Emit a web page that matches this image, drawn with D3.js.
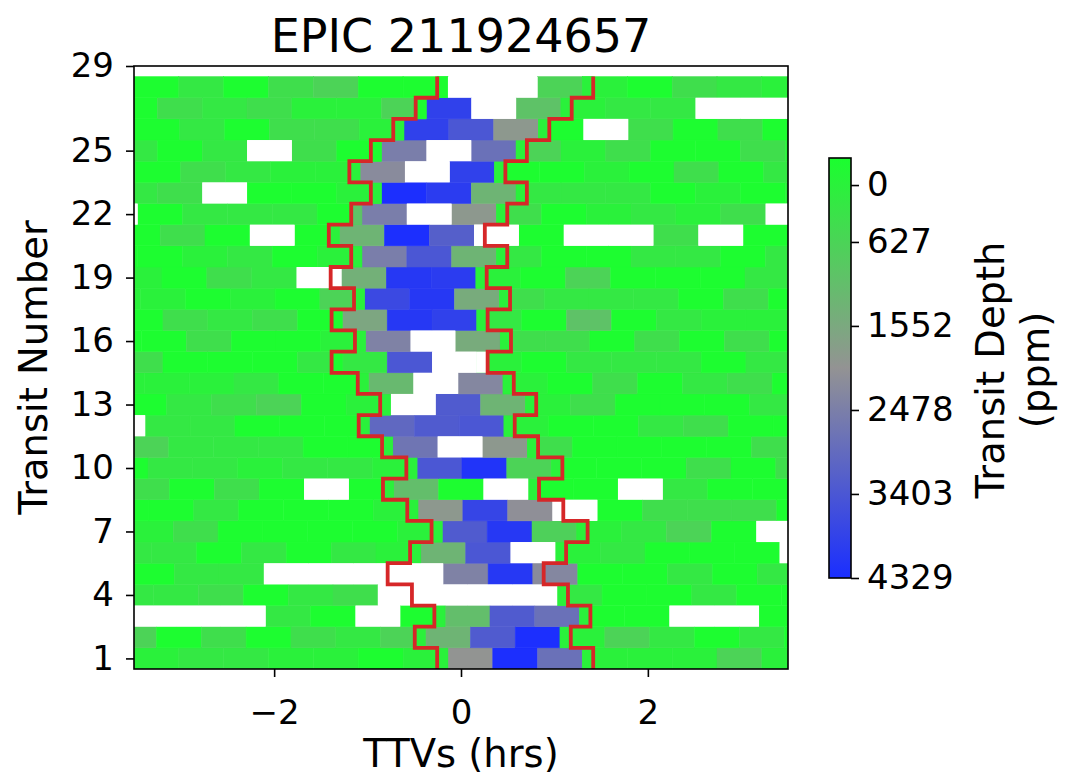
<!DOCTYPE html>
<html>
<head>
<meta charset="utf-8">
<script src="https://cdn.jsdelivr.net/npm/d3@7"></script>
<style>
  body { margin: 0; background: #fff; }
  text { font-family: "DejaVu Sans", sans-serif; }
</style>
</head>
<body>
<div id="graph"></div>
<script>
// rows of the river diagram
const transits = [1, 2, 3, 4, 5, 6, 7, 8, 9, 10, 11, 12, 13, 14, 15, 16, 17, 18, 19, 20, 21, 22, 23, 24, 25, 26, 27, 28];
// transit timing variation of each transit (hrs)
const ttv = [0.58, 0.34, 0.55, 0.31, 0.05, 0.29, 0.52, 0.26, 0.00, 0.25, -0.01, -0.26, -0.03, -0.27,
             -0.55, -0.30, -0.55, -0.31, -0.56, -0.34, -0.58, -0.34, -0.13, -0.36, -0.13, 0.11, 0.35, 0.58];
// bins around each transit centre, in units of binWidth
const binIndex = [-8, -7, -6, -5, -4, -3, -2, -1, 0, 1, 2, 3, 4, 5, 6, 7, 8];
const binWidth = 0.48;   // hrs
const duration = 1.67;   // hrs, red window
// depth (ppm) per transit / bin, null = masked
const depth = [
  [0, 200, 200, 0, 0, -250, 0, 2000, 4300, 2800, 0, 0, 0, 650, 0, 0, 0],
  [650, -250, 400, -250, 400, 200, 650, 1300, 3300, 4300, 0, 650, 200, -250, 200, -250, 0],
  [null, null, null, 200, -250, null, -250, 1100, 3300, 2800, -250, -250, null, null, -250, 0, 0],
  [200, 200, 400, -250, 200, 400, null, null, null, null, 200, -250, -250, 200, -250, -250, 0],
  [0, -250, 200, 200, null, null, null, null, 2400, 4100, 2300, -250, -250, 200, -250, 200, 0],
  [200, 200, -250, 200, -250, 200, 0, 1300, 3400, null, 0, 200, -250, -250, -250, null, 0],
  [0, 400, -250, -250, -250, -250, 0, 3300, 4100, 700, 0, 200, 650, -250, null, 0, 0],
  [-250, -250, 200, -250, -250, -250, 0, 1900, 3800, 2100, null, -250, 400, 400, 400, -250, 0],
  [0, 400, -250, 400, -250, null, -250, 1100, -250, null, -250, -250, null, 200, -250, -250, 0],
  [-250, 200, 200, 0, 200, 200, 0, 3400, 4200, 650, -250, -250, -250, 400, -250, 400, 0],
  [0, 650, 200, 200, 200, -250, -250, 2700, null, 1900, 400, -250, -250, -250, -250, 400, 0],
  [0, null, 200, 200, -250, -250, -250, 3000, 3300, 3400, 0, -250, -250, 200, 400, -250, -250],
  [0, -250, 200, 400, 650, -250, 0, null, 3300, 1300, 0, 400, -250, -250, -250, 200, 0],
  [0, 0, 0, 0, 200, -250, -250, 1200, null, 2300, 0, -250, 400, -250, 200, 400, -250],
  [0, 0, 400, -250, -250, -250, 200, 200, 3400, null, 0, -250, 200, 200, 200, -250, 200],
  [0, -250, -250, 400, -250, -250, 0, 2400, null, 1500, 400, 400, -250, 400, -250, 400, -250],
  [0, 0, -250, 400, 200, 400, -250, 1600, 4100, 3900, 200, -250, 1000, -250, 200, 0, 0],
  [0, 0, 0, -250, 0, -250, 650, 3700, 4100, 1500, 400, 200, 200, 200, -250, 400, -250],
  [0, 0, 0, -250, 400, 200, null, 1400, 4100, 4000, 0, -250, 650, -250, -250, -250, 200],
  [0, -250, -250, 0, 200, -250, 0, 2500, 3400, 1300, 200, -250, -250, 200, 200, -250, 200],
  [0, 0, -250, 400, -250, null, -250, 1300, 4300, 3200, null, -250, null, null, 400, null, -250],
  [0, null, -250, 200, 200, 200, -250, 2500, null, 1900, 400, -250, 0, 200, 0, 400, null],
  [0, 200, 400, null, -250, -250, 0, 4300, 4000, 1300, 200, 200, 200, -250, 0, -250, 0],
  [0, 0, -250, 400, 200, 0, 0, 2200, null, 3900, -250, -250, 0, -250, 400, -250, 200],
  [0, 200, -250, 200, null, 400, -250, 2500, null, 2800, 650, 0, 400, -250, -250, 400, 0],
  [-250, -250, 200, -250, 400, 400, 0, 3900, 3400, 1900, -250, null, 400, -250, 400, -250, 0],
  [-250, 400, 200, 400, 0, 0, 650, 3900, null, 1000, 0, 200, 200, null, null, null, 0],
  [-250, 200, -250, 400, 650, -250, -250, null, null, 650, 0, -250, 400, 200, 0, 0, 0]
];
// thin in-transit slivers at the window edges
const ingressDepth = [0, 0, 0, null, null, 0, 0, 0, 0, 0, 0, 0, 0, 0, -250, 0, -250, 0, null, 0, 0, 1000, 0, 0, -250, 0, -250, -250];
const egressDepth = [0, 0, 0, 0, 2200, 0, 0, null, 0, 0, 0, 0, 0, 0, null, 0, 0, 0, 0, 0, null, 0, 0, 0, 0, 0, 0, 0];

const yTicks = [1, 4, 7, 10, 13, 16, 19, 22, 25, 29];
const xTicks = [-2, 0, 2];
const cbarTicks = [0, 627, 1552, 2478, 3403, 4329];
const depthRange = [-298, 4329];

const width = 1070, height = 781;
const plot = {left: 134, right: 788, top: 66, bottom: 669};
const cbar = {left: 829, width: 22, top: 158, bottom: 578};

let svg = d3.select("#graph")
    .append("svg")
    .attr("width", width)
    .attr("height", height);

let x = d3.scaleLinear().domain([-3.5, 3.5]).range([plot.left, plot.right]);
let y = d3.scaleLinear().domain([0.5, 29]).range([plot.bottom, plot.top]);

let color = d3.scaleLinear()
    .domain([depthRange[0], (depthRange[0] + depthRange[1]) / 2, depthRange[1]])
    .range(["#1aff2e", "#939393", "#1a2eff"])
    .clamp(true);

svg.append("clipPath").attr("id", "clip")
    .append("rect")
    .attr("x", plot.left).attr("y", plot.top)
    .attr("width", plot.right - plot.left).attr("height", plot.bottom - plot.top);

// flatten cells
let cells = [];
transits.forEach(function(t, i) {
    binIndex.forEach(function(k, j) {
        cells.push({t: t, x0: ttv[i] + (k - 0.5) * binWidth, x1: ttv[i] + (k + 0.5) * binWidth, v: depth[i][j]});
    });
    cells.push({t: t, x0: ttv[i] - duration / 2, x1: ttv[i] - 1.5 * binWidth, v: ingressDepth[i]});
    cells.push({t: t, x0: ttv[i] + 1.5 * binWidth, x1: ttv[i] + duration / 2, v: egressDepth[i]});
});

let mesh = svg.append("g").attr("clip-path", "url(#clip)");
mesh.selectAll("rect")
    .data(cells.filter(d => d.v !== null))
    .enter()
    .append("rect")
    .attr("x", d => x(d.x0))
    .attr("y", d => y(d.t + 0.5))
    .attr("width", d => x(d.x1) - x(d.x0))
    .attr("height", d => y(d.t - 0.5) - y(d.t + 0.5))
    .attr("fill", d => color(d.v))
    .attr("stroke", d => color(d.v))
    .attr("stroke-width", 0.5);

// masked cells drawn white on top of neighbours
mesh.selectAll("rect.masked")
    .data(cells.filter(d => d.v === null))
    .enter()
    .append("rect")
    .attr("class", "masked")
    .attr("x", d => x(d.x0))
    .attr("y", d => y(d.t + 0.5))
    .attr("width", d => x(d.x1) - x(d.x0))
    .attr("height", d => y(d.t - 0.5) - y(d.t + 0.5))
    .attr("fill", "#fff");

// transit window outline
let rows = transits.slice().reverse();
let line = d3.line().x(d => x(d[0])).y(d => y(d[1]));
[-1, 1].forEach(function(side) {
    let pts = [];
    rows.forEach(function(t) {
        let c = ttv[t - 1] + side * duration / 2;
        pts.push([c, t + 0.5], [c, t - 0.5]);
    });
    mesh.append("path")
        .attr("d", line(pts))
        .attr("fill", "none")
        .attr("stroke", "#d62728")
        .attr("stroke-width", 3.8)
        .attr("stroke-linejoin", "miter");
});

// frame
svg.append("rect")
    .attr("x", plot.left).attr("y", plot.top)
    .attr("width", plot.right - plot.left).attr("height", plot.bottom - plot.top)
    .attr("fill", "none").attr("stroke", "#000").attr("stroke-width", 1.6);

let yAxis = svg.append("g")
    .attr("transform", `translate(${plot.left},0)`)
    .call(d3.axisLeft(y).tickValues(yTicks).tickSize(8).tickPadding(12).tickSizeOuter(0));
let xAxis = svg.append("g")
    .attr("transform", `translate(0,${plot.bottom})`)
    .call(d3.axisBottom(x).tickValues(xTicks).tickSize(8).tickPadding(23).tickSizeOuter(0)
        .tickFormat(d => d < 0 ? "\u2212" + Math.abs(d) : d));
[xAxis, yAxis].forEach(function(a) {
    a.select(".domain").remove();
    a.selectAll(".tick line").attr("stroke-width", 1.6);
    a.selectAll("text").style("font-size", "34px").attr("fill", "#000")
        .style("font-family", "DejaVu Sans");
});

// titles
svg.append("text")
    .attr("x", (plot.left + plot.right) / 2).attr("y", 52)
    .style("text-anchor", "middle").style("font-size", "46px")
    .text("EPIC 211924657");
svg.append("text")
    .attr("x", (plot.left + plot.right) / 2).attr("y", 767)
    .style("text-anchor", "middle").style("font-size", "38.5px")
    .text("TTVs (hrs)");
svg.append("text")
    .attr("transform", `translate(47,${(plot.top + plot.bottom) / 2}) rotate(-90)`)
    .style("text-anchor", "middle").style("font-size", "38.5px")
    .text("Transit Number");

// colorbar
let grad = svg.append("defs").append("linearGradient")
    .attr("id", "cgrad").attr("x1", 0).attr("y1", 0).attr("x2", 0).attr("y2", 1);
[0, 0.25, 0.5, 0.75, 1].forEach(function(f) {
    grad.append("stop").attr("offset", f)
        .attr("stop-color", color(depthRange[0] + f * (depthRange[1] - depthRange[0])));
});
let cy = d3.scaleLinear().domain(depthRange).range([cbar.top, cbar.bottom]);
svg.append("rect")
    .attr("x", cbar.left).attr("y", cbar.top)
    .attr("width", cbar.width).attr("height", cbar.bottom - cbar.top)
    .attr("fill", "url(#cgrad)").attr("stroke", "#000").attr("stroke-width", 1.6);
let cAxis = svg.append("g")
    .attr("transform", `translate(${cbar.left + cbar.width},0)`)
    .call(d3.axisRight(cy).tickValues(cbarTicks).tickSize(8).tickPadding(8).tickSizeOuter(0)
        .tickFormat(d3.format("d")));
cAxis.select(".domain").remove();
cAxis.selectAll(".tick line").attr("stroke-width", 1.6);
cAxis.selectAll("text").style("font-size", "34px").attr("fill", "#000").style("font-family", "DejaVu Sans");

let cLabel = svg.append("text")
    .attr("transform", `translate(1004,370) rotate(-90)`)
    .style("text-anchor", "middle").style("font-size", "38.5px");
cLabel.append("tspan").attr("x", 0).attr("dy", 0).text("Transit Depth");
cLabel.append("tspan").attr("x", 0).attr("dy", "1.18em").text("(ppm)");
</script>
</body>
</html>
